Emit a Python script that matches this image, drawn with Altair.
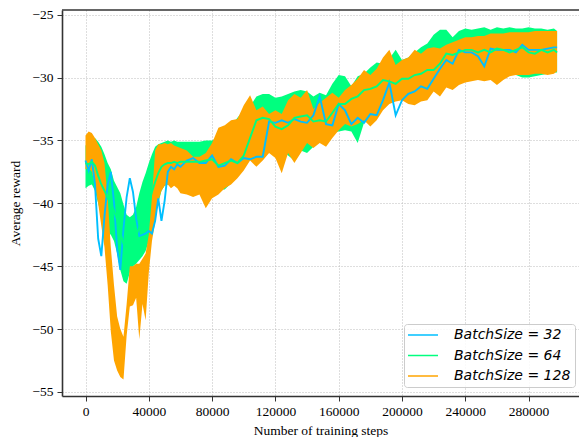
import altair as alt
import pandas as pd

steps = list(range(0, 60001, 2000)) + list(range(64000, 296001, 4000)) + [298000]

bs32_mean = [
    -36.6, -37.4, -36.5, -38.5, -42.8, -44.2, -41.0, -38.5, -37.5, -39.9,
    -43.6, -45.3, -42.0, -39.5, -38.0, -39.1, -41.2, -42.6, -42.5, -42.4,
    -42.2, -42.4, -41.4, -39.6, -41.4, -39.8, -37.5, -37.1, -37.3, -36.9,
    -37.1,
    -36.6, -36.4, -36.8, -36.8, -36.2, -37.1, -37.0, -36.5, -36.8, -36.4,
    -36.5, -36.3, -36.3, -33.5, -33.6, -33.4, -33.6, -33.3, -33.5, -33.6,
    -33.0, -31.5, -33.7, -33.8, -32.1, -32.6, -33.7, -33.2, -33.6, -32.9,
    -33.0, -31.8, -30.4, -33.0, -31.8, -31.3, -31.1, -30.7, -30.9, -30.1,
    -29.3, -28.6, -28.9, -27.8, -28.0, -28.0, -28.3, -29.1, -27.7, -27.8,
    -27.8, -27.8, -28.0, -27.4, -27.8, -27.8, -27.8, -27.7, -27.6,
    -27.6]

bs64_mean = [
    -36.8, -36.9, -36.7, -37.0, -37.8, -38.5, -39.0, -39.6, -40.0, -40.6,
    -41.3, -42.3, -43.2, -43.6, -43.3, -42.9, -42.6, -41.9, -41.3, -40.7,
    -40.0, -39.1, -38.3, -37.6, -37.1, -36.9, -36.8, -36.8, -36.7, -36.8,
    -36.7,
    -36.7, -36.7, -36.7, -36.6, -36.5, -37.0, -36.8, -36.6, -36.8, -36.2,
    -34.8, -33.4, -33.2, -33.3, -33.9, -34.1, -33.8, -33.2, -33.1, -33.0,
    -33.5, -33.4, -33.5, -32.8, -32.1, -32.1, -31.7, -31.5, -31.0, -30.9,
    -30.7, -30.2, -30.3, -30.5, -30.1, -30.1, -29.8, -29.7, -29.4, -29.4,
    -28.9, -28.1, -28.2, -28.0, -27.8, -27.8, -28.0, -27.8, -28.0, -27.7,
    -27.8, -28.0, -27.8, -27.6, -28.0, -28.1, -27.8, -28.0, -27.8,
    -28.0]

bs64_low = [
    -38.8, -38.6, -38.5, -39.0, -40.0, -41.0, -41.8, -42.3, -42.5, -43.0,
    -44.0, -45.3, -46.2, -46.4, -45.5, -45.0, -44.8, -44.5, -44.2, -43.8,
    -43.0, -42.0, -41.0, -40.0, -39.0, -38.6, -38.5, -38.4, -38.5, -38.6,
    -38.5,
    -36.9, -36.9, -37.0, -37.5, -38.1, -38.9, -38.9, -38.4, -37.6, -36.8,
    -36.0, -35.5, -35.2, -35.5, -36.0, -35.8, -36.2, -36.6, -35.8, -36.0,
    -35.5, -35.0, -34.5, -34.4, -34.3, -34.2, -34.3, -35.2, -33.6, -33.4,
    -32.9, -32.1, -31.7, -31.8, -31.4, -31.8, -31.4, -31.1, -31.2, -31.0,
    -30.7, -30.5, -30.6, -30.4, -30.2, -30.0, -30.0, -30.0, -29.9, -30.0,
    -29.9, -29.8, -29.8, -30.0, -30.0, -29.9, -29.8, -29.7, -29.6,
    -29.6]

bs64_high = [
    -35.4, -35.2, -34.9, -34.8, -35.1, -35.5, -36.1, -36.8, -37.3, -38.2,
    -38.7, -39.2, -40.1, -40.9, -41.1, -40.9, -40.3, -39.2, -38.3, -37.6,
    -36.8, -36.1, -35.5, -35.3, -35.2, -35.1, -35.0, -35.1, -35.0, -35.1,
    -35.1,
    -35.1, -35.1, -35.1, -35.0, -35.0, -34.7, -34.3, -33.9, -33.2, -32.6,
    -32.3, -31.5, -31.3, -31.3, -31.6, -31.5, -31.3, -31.1, -31.0, -31.1,
    -31.5, -31.2, -31.4, -30.5, -29.8, -29.9, -30.7, -29.9, -29.7, -29.2,
    -28.8, -28.9, -28.5, -27.8, -28.6, -28.4, -28.0, -27.6, -27.3, -26.6,
    -26.2, -26.2, -26.8, -26.3, -26.1, -26.2, -26.1, -26.0, -26.2, -26.0,
    -26.1, -26.0, -26.1, -26.1, -26.0, -26.1, -26.1, -26.2, -26.1,
    -26.3]

bs128_low = [
    -37.3, -37.2, -37.5, -38.6, -40.0, -41.8, -43.5, -46.5, -50.2, -52.5,
    -53.3, -53.8, -54.0, -50.5, -48.2, -48.1, -47.5, -50.8, -48.0, -49.3,
    -45.5, -43.0, -41.5, -39.8, -39.0, -38.6, -38.5, -38.8, -38.6, -38.8,
    -39.2,
    -39.3, -39.5, -39.3, -40.4, -39.6, -39.3, -38.8, -38.5, -38.0, -37.4,
    -36.6, -37.1, -36.6, -36.0, -36.4, -37.6, -36.0, -36.8, -36.0, -35.2,
    -35.6, -35.2, -35.5, -34.8, -34.2, -33.7, -33.9, -33.7, -33.4, -33.9,
    -33.4, -32.6, -32.1, -31.9, -31.8, -32.1, -32.2, -31.9, -31.8, -31.1,
    -31.5, -30.8, -31.0, -30.6, -30.4, -30.3, -30.2, -30.3, -30.2, -30.6,
    -30.2, -29.9, -29.8, -29.8, -29.8, -29.7, -29.7, -29.8, -29.7,
    -29.5]

bs128_high = [
    -34.6, -34.3, -34.4, -34.8, -35.3, -35.8, -36.8, -39.5, -43.5, -46.5,
    -49.0, -50.0, -50.6, -48.0, -45.0, -45.0, -44.8, -44.8, -44.4, -44.0,
    -42.5, -39.5, -35.8, -35.3, -35.3, -35.2, -35.3, -35.2, -35.4, -35.5,
    -35.6,
    -35.8, -36.3, -36.3, -36.0, -35.2, -34.0, -33.8, -33.4, -33.3, -32.2,
    -31.4, -32.6, -32.3, -32.9, -32.6, -32.9, -31.8, -31.3, -31.6, -31.0,
    -32.5, -32.0, -31.6, -31.2, -31.6, -31.0, -30.6, -30.1, -29.4, -29.8,
    -29.3, -28.4, -27.8, -29.0, -28.6, -28.4, -27.8, -28.1, -27.7, -27.6,
    -27.7, -27.4, -27.2, -27.0, -26.8, -26.8, -26.7, -26.7, -26.5, -26.5,
    -26.5, -26.4, -26.4, -26.4, -26.4, -26.3, -26.3, -26.3, -26.3,
    -26.3]

series_labels = ["BatchSize = 32", "BatchSize = 64", "BatchSize = 128"]
series_colors = ["#00BFFF", "#00FF7F", "#FFA500"]
x_ticks = [0, 40000, 80000, 120000, 160000, 200000, 240000, 280000]
y_ticks = [-55, -50, -45, -40, -35, -30, -25]

bands = pd.DataFrame({
    "step": steps,
    "g_lo": bs64_low, "g_hi": bs64_high,
    "o_lo": bs128_low, "o_hi": bs128_high,
})
lines = pd.concat([
    pd.DataFrame({"step": steps, "reward": bs32_mean, "series": series_labels[0]}),
    pd.DataFrame({"step": steps, "reward": bs64_mean, "series": series_labels[1]}),
], ignore_index=True)

W, H = 517, 386
FONT = "Liberation Serif"

x_scale = alt.Scale(domain=[-14850, 311850], nice=False, zero=False)
y_scale = alt.Scale(domain=[-55.32, -24.63], nice=False, zero=False)

axis_common = dict(
    labelFont=FONT, labelFontSize=13.5, labelColor="black",
    titleFont=FONT, titleFontSize=13.5, titleFontWeight="normal", titleColor="black",
    tickColor="#333333", tickSize=5, tickWidth=1,
    domainColor="#333333", domainWidth=1.6,
    grid=True, gridColor="#bdbdbd", gridDash=[1, 2], gridWidth=1,
)

x_enc = alt.X("step:Q", scale=x_scale,
              axis=alt.Axis(values=x_ticks, format="d", labelPadding=3, titlePadding=6,
                            labelFlush=False, **axis_common),
              title="Number of training steps")
y_axis = alt.Axis(values=y_ticks, format="d", labelPadding=4, titlePadding=9,
                  labelExpr="replace(datum.label, '-', '\u2212')", **axis_common)

green_band = alt.Chart(bands).mark_area(color="#00FF7F", opacity=1, strokeWidth=0).encode(
    x=x_enc,
    y=alt.Y("g_lo:Q", scale=y_scale, axis=y_axis, title="Average reward"),
    y2="g_hi:Q",
)
orange_band = alt.Chart(bands).mark_area(color="#FFA500", opacity=1, strokeWidth=0).encode(
    x=alt.X("step:Q", scale=x_scale),
    y=alt.Y("o_lo:Q", scale=y_scale),
    y2="o_hi:Q",
)
line_layer = alt.Chart(lines).mark_line(strokeWidth=1.9).encode(
    x=alt.X("step:Q", scale=x_scale),
    y=alt.Y("reward:Q", scale=y_scale),
    color=alt.Color("series:N",
                    scale=alt.Scale(domain=series_labels, range=series_colors),
                    legend=alt.Legend(
                        title=None, orient="none", legendX=342, legendY=314,
                        symbolType="M-3,0H3", symbolSize=100, symbolStrokeWidth=1.5,
                        symbolOffset=8, labelOffset=24,
                        labelFont="DejaVu Sans", labelFontSize=14, labelFontStyle="italic",
                        labelColor="black", labelLimit=0, rowPadding=6.5,
                        padding=4, strokeColor="#cccccc", fillColor="rgba(255,255,255,0.85)",
                        cornerRadius=3,
                    )),
    order=alt.Order("series:N", sort="ascending"),
)
top_spine = alt.Chart(pd.DataFrame({"k": [0]})).mark_rule(color="#333333", strokeWidth=1.6).encode(
    x=alt.value(0), x2=alt.value(W), y=alt.value(0)
)

chart = alt.layer(green_band, orange_band, line_layer, top_spine).properties(
    width=W, height=H,
    autosize=alt.AutoSizeParams(type="none"),
    padding={"left": 62, "top": 10, "right": 0, "bottom": 41},
    background="white",
).configure_view(strokeWidth=0)

chart.save("out.html", embed_options={"renderer": "svg", "actions": False})
